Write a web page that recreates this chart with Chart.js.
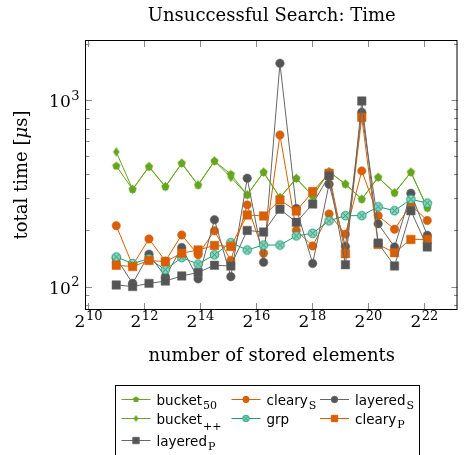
<!DOCTYPE html>
<html>
<head>
<meta charset="utf-8">
<script src="https://cdn.jsdelivr.net/npm/chart.js@4.4.1/dist/chart.umd.min.js"></script>
<style>
  html, body { margin: 0; padding: 0; background: #fff; }
  #chart { display: block; }
</style>
</head>
<body>
<canvas id="chart" width="464" height="455"></canvas>
<script>
// number of stored elements (x) and measured times in microseconds (y)
const sizes = [2048, 3072, 4608, 6912, 10368, 15552, 23328, 34992, 52488, 78732,
  118098, 177147, 265721, 398581, 597871, 896807, 1345210, 2017815, 3026723, 4540084];

const bucket50 = [443, 332, 439, 343, 458, 350, 471, 400, 310, 410, 300, 380, 306, 413, 354, 294, 385, 318, 410, 264];
const bucketPP = [527, 332, 439, 343, 458, 350, 471, 385, 310, 410, 300, 380, 306, 413, 354, 294, 385, 318, 410, 264];
const clearyS = [212, 130, 180, 137, 189, 148, 199, 138, 274, 151, 649, 200, 165, 245, 191, 417, 240, 203, 274, 226];
const layeredS = [142, 104, 149, 113, 162, 110, 228, 113, 381, 135, 1573, 262, 133, 354, 164, 859, 217, 163, 316, 188];
const grp = [144, 133, 141, 123, 143, 132, 148, 172, 157, 167, 167, 187, 193, 225, 240, 240, 268, 255, 294, 280];
const clearyP = [130, 128, 138, 136, 151, 157, 166, 164, 242, 239, 291, 254, 323, 405, 150, 808, 168, 152, 179, 179];
const layeredP = [102, 100, 104, 107, 114, 119, 130, 129, 200, 196, 260, 221, 277, 393, 131, 988, 171, 129, 255, 163];

const xTickExps = [10, 12, 14, 16, 18, 20, 22];   // 2^n
const yTickExps = [2, 3];                          // 10^n

const GREEN = '#66a61e';
const ORANGE = '#d95f02';
const TEAL = '#1b9e77';
const GRAY = '#666666';
const GRAY_MARK = '#555555';

const SERIF = '"DejaVu Serif", serif';
const SANS = '"DejaVu Sans", sans-serif';

// small canvases used as point markers
function makeMarker(kind, color, k) {
  const c = document.createElement('canvas');
  c.width = 13; c.height = 13;
  const g = c.getContext('2d');
  g.translate(6.5, 6.5);
  g.scale(k, k);
  g.fillStyle = color;
  g.strokeStyle = color;
  g.beginPath();
  if (kind === 'pentagon') {
    for (let i = 0; i < 5; i++) {
      const a = -Math.PI / 2 + i * 2 * Math.PI / 5;
      g.lineTo(4.3 * Math.cos(a), 4.3 * Math.sin(a));
    }
    g.closePath();
    g.fill();
  } else if (kind === 'diamond') {
    g.moveTo(0, -4.8); g.lineTo(3.3, 0); g.lineTo(0, 4.8); g.lineTo(-3.3, 0);
    g.closePath();
    g.fill();
  } else if (kind === 'otimes') {
    g.arc(0, 0, 4.3, 0, Math.PI * 2);
    g.fillStyle = '#8fd2be';
    g.fill();
    g.lineWidth = 1 / k;
    g.stroke();
    const d = 4.3 * Math.SQRT1_2;
    g.beginPath();
    g.moveTo(-d, -d); g.lineTo(d, d);
    g.moveTo(d, -d); g.lineTo(-d, d);
    g.stroke();
  }
  return c;
}

const series = [
  { name: 'bucket', sub: '50', values: bucket50, line: GREEN, fill: GREEN, mk: 'pentagon', style: 'circle', r: 4 },
  { name: 'cleary', sub: 'S', values: clearyS, line: ORANGE, fill: ORANGE, style: 'circle', r: 4.2 },
  { name: 'layered', sub: 'S', values: layeredS, line: GRAY, fill: GRAY_MARK, style: 'circle', r: 4.3 },
  { name: 'bucket', sub: '++', values: bucketPP, line: GREEN, fill: GREEN, mk: 'diamond', style: 'circle', r: 4 },
  { name: 'grp', sub: '', values: grp, line: TEAL, fill: '#8fd2be', mk: 'otimes', style: 'circle', r: 4 },
  { name: 'cleary', sub: 'P', values: clearyP, line: ORANGE, fill: ORANGE, style: 'rect', r: 6 },
  { name: 'layered', sub: 'P', values: layeredP, line: GRAY, fill: GRAY_MARK, style: 'rect', r: 6 }
];
series.forEach(s => {
  if (s.mk) {
    s.style = makeMarker(s.mk, s.line, 1);
    s.legendStyle = makeMarker(s.mk, s.line, 0.75);
  } else {
    s.legendStyle = s.style;
  }
});

function drawPow(ctx, base, exp, x, y, align) {
  ctx.textAlign = 'left';
  ctx.textBaseline = 'alphabetic';
  ctx.font = '17px ' + SERIF;
  const wb = ctx.measureText(base).width;
  ctx.font = '13px ' + SERIF;
  const we = ctx.measureText(exp).width;
  const left = align === 'center' ? x - (wb + we) / 2 : x - (wb + we);
  ctx.font = '17px ' + SERIF;
  ctx.fillText(base, left, y);
  ctx.font = '13px ' + SERIF;
  ctx.fillText(exp, left + wb + 0.5, y - 7.5);
}

const decor = {
  id: 'decor',
  beforeDatasetsDraw(chart) {
    const { ctx, chartArea: a, scales: { x, y } } = chart;
    ctx.save();
    ctx.strokeStyle = '#8a8a8a';
    ctx.lineWidth = 1;
    ctx.beginPath();
    // x ticks, inward on bottom and top
    xTickExps.forEach(e => {
      const px = Math.round(x.getPixelForValue(Math.pow(2, e))) + 0.5;
      ctx.moveTo(px, a.bottom); ctx.lineTo(px, a.bottom - 6);
      ctx.moveTo(px, a.top); ctx.lineTo(px, a.top + 6);
    });
    // y ticks, major and minor, inward on left and right
    for (let d = 1; d <= 3; d++) {
      for (let m = 1; m <= 9; m++) {
        const v = m * Math.pow(10, d);
        if (v < y.min || v > y.max) continue;
        const py = Math.round(y.getPixelForValue(v)) + 0.5;
        const len = m === 1 ? 6 : 3.5;
        ctx.moveTo(a.left, py); ctx.lineTo(a.left + len, py);
        ctx.moveTo(a.right, py); ctx.lineTo(a.right - len, py);
      }
    }
    ctx.stroke();
    ctx.restore();
  },
  afterDraw(chart) {
    const { ctx, chartArea: a, scales: { x, y } } = chart;
    ctx.save();
    // frame
    ctx.strokeStyle = '#000';
    ctx.lineWidth = 1;
    ctx.strokeRect(a.left - 0.5, a.top - 0.5, a.right - a.left, a.bottom - a.top + 1);

    ctx.fillStyle = '#000';
    // tick labels
    xTickExps.forEach(e => {
      drawPow(ctx, '2', String(e), x.getPixelForValue(Math.pow(2, e)), a.bottom + 18, 'center');
    });
    yTickExps.forEach(e => {
      drawPow(ctx, '10', String(e), a.left - 7, y.getPixelForValue(Math.pow(10, e)) + 7, 'right');
    });

    const cx = (a.left + a.right) / 2;
    ctx.textAlign = 'center';
    ctx.textBaseline = 'alphabetic';
    ctx.font = '18px ' + SERIF;
    ctx.fillText('Unsuccessful Search: Time', cx, 21);
    ctx.fillText('number of stored elements', cx, 361);

    // y axis title with italic mu
    ctx.save();
    ctx.translate(27, (a.top + a.bottom) / 2);
    ctx.rotate(-Math.PI / 2);
    const parts = [['total time [', '18px ' + SERIF], ['\u03bc', 'italic 18px ' + SERIF], ['s]', '18px ' + SERIF]];
    let total = 0;
    parts.forEach(p => { ctx.font = p[1]; total += ctx.measureText(p[0]).width; });
    let px = -total / 2;
    ctx.textAlign = 'left';
    parts.forEach(p => { ctx.font = p[1]; ctx.fillText(p[0], px, 0); px += ctx.measureText(p[0]).width; });
    ctx.restore();

    // legend
    ctx.strokeStyle = '#000';
    ctx.strokeRect(115.5, 385.5, 304, 90);
    const cols = [121.5, 231.5, 320];
    const rows = [399.5, 418.5, 440.5];
    series.forEach((s, i) => {
      const lx = cols[i % 3], ly = rows[Math.floor(i / 3)];
      ctx.strokeStyle = s.line;
      ctx.lineWidth = 1;
      ctx.beginPath();
      ctx.moveTo(lx, ly); ctx.lineTo(lx + 29, ly);
      ctx.stroke();
      ctx.fillStyle = s.fill;
      ctx.strokeStyle = s.line;
      Chart.helpers.drawPoint(ctx, { pointStyle: s.legendStyle, radius: s.r * 0.75, rotation: 0, borderWidth: 0.5 }, lx + 14.5, ly);
      ctx.fillStyle = '#000';
      ctx.textAlign = 'left';
      ctx.textBaseline = 'alphabetic';
      ctx.font = '13.5px ' + SANS;
      const tx = lx + 35;
      ctx.fillText(s.name, tx, ly + 5);
      const w = ctx.measureText(s.name).width;
      if (s.sub) {
        ctx.font = '11px ' + SERIF;
        ctx.fillText(s.sub, tx + w + 1, ly + (s.sub === '++' ? 11 : 9));
      }
    });
    ctx.restore();
  }
};

new Chart(document.getElementById('chart'), {
  type: 'line',
  data: {
    datasets: series.map((s, i) => ({
      label: s.name + s.sub,
      data: sizes.map((n, j) => ({ x: n, y: s.values[j] })),
      borderColor: s.line,
      backgroundColor: s.fill,
      borderWidth: 1,
      pointStyle: s.style,
      pointRadius: s.r,
      pointBackgroundColor: s.fill,
      pointBorderColor: s.line,
      pointBorderWidth: 0.5,
      tension: 0,
      order: series.length - i
    }))
  },
  options: {
    responsive: false,
    animation: false,
    devicePixelRatio: 1,
    layout: { padding: { left: 86, right: 1, top: 41, bottom: 146 } },
    plugins: {
      legend: { display: false },
      title: { display: false },
      tooltip: { enabled: false }
    },
    scales: {
      x: { type: 'logarithmic', display: false, bounds: 'data', min: 968, max: 9600000 },
      y: { type: 'logarithmic', display: false, bounds: 'data', min: 75.8, max: 2072 }
    }
  },
  plugins: [decor]
});
</script>
</body>
</html>
